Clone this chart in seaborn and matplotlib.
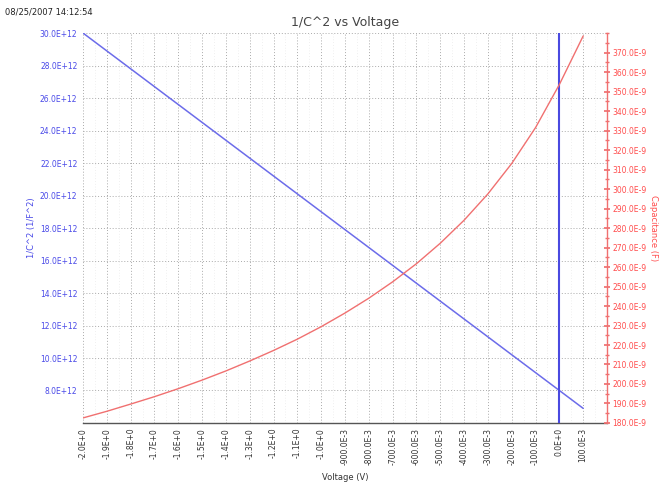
import numpy as np
import pandas as pd
import matplotlib
matplotlib.use("Agg")
import matplotlib.pyplot as plt
import seaborn as sns
from matplotlib.ticker import FuncFormatter, MultipleLocator

# Data
voltage = [-2.0, -1.9, -1.8, -1.7, -1.6, -1.5, -1.4, -1.3, -1.2, -1.1, -1.0,
           -0.9, -0.8, -0.7, -0.6, -0.5, -0.4, -0.3, -0.2, -0.1, 0.0, 0.1]
inv_c2_e12 = [30.0, 28.9, 27.8, 26.7, 25.6, 24.5, 23.4, 22.3, 21.2, 20.1, 19.0,
              17.9, 16.8, 15.7, 14.6, 13.5, 12.4, 11.3, 10.2, 9.1, 8.0, 6.9]
cap_nF = [182.6, 186.0, 189.7, 193.5, 197.6, 202.0, 206.7, 211.8, 217.2, 223.0, 229.4,
          236.4, 244.0, 252.4, 261.7, 272.2, 284.0, 297.5, 313.1, 331.5, 353.6, 378.5]
x_ticks = [-2.0, -1.9, -1.8, -1.7, -1.6, -1.5, -1.4, -1.3, -1.2, -1.1, -1.0,
           -0.9, -0.8, -0.7, -0.6, -0.5, -0.4, -0.3, -0.2, -0.1, 0.0, 0.1]
left_ticks_e12 = [8, 10, 12, 14, 16, 18, 20, 22, 24, 26, 28, 30]
right_ticks_nF = [180, 190, 200, 210, 220, 230, 240, 250, 260, 270, 280, 290,
                  300, 310, 320, 330, 340, 350, 360, 370]

df = pd.DataFrame({"V": voltage,
                   "invC2": [v * 1e12 for v in inv_c2_e12],
                   "C": [v * 1e-9 for v in cap_nF]})


def eng(x, pos=None):
    if abs(x) < 1e-30:
        return "0.0E+0"
    e = int(np.floor(np.log10(abs(x)) / 3) * 3)
    m = x / 10 ** e
    if round(abs(m), 1) >= 1000:
        e += 3
        m = x / 10 ** e
    return f"{m:.1f}E{'+' if e >= 0 else '-'}{abs(e)}"


sns.set_theme(style="white")
plt.rcParams['font.family'] = ['DejaVu Sans']

BLUE = "#6c6cea"
BLUE_TXT = "#4a4ae8"
RED = "#f07070"
RED_TXT = "#ff4d4d"

fig = plt.figure(figsize=(6.65, 4.93), dpi=100)
ax = fig.add_axes([0.1248, 0.142, 0.788, 0.791])
ax2 = ax.twinx()

sns.lineplot(data=df, x="V", y="invC2", ax=ax, color=BLUE, lw=1.1)
sns.lineplot(data=df, x="V", y="C", ax=ax2, color=RED, lw=1.0)

ax.set_xlim(-2.0, 0.2)
ax.set_ylim(6.0e12, 30.0e12)
ax2.set_ylim(180e-9, 380e-9)

ax.set_xticks(x_ticks)
ax.xaxis.set_minor_locator(MultipleLocator(0.05))
ax.set_xticklabels([eng(v) for v in x_ticks], rotation=90, fontsize=5.5, color="#333333")
ax.set_yticks([v * 1e12 for v in left_ticks_e12])
ax.yaxis.set_major_formatter(FuncFormatter(eng))
ax2.set_yticks([v * 1e-9 for v in right_ticks_nF])
ax2.yaxis.set_major_formatter(FuncFormatter(eng))
ax2.yaxis.set_minor_locator(MultipleLocator(5e-9))

ax.tick_params(axis="y", which="both", labelsize=5.5, labelcolor=BLUE_TXT, length=0, pad=4)
ax.tick_params(axis="x", which="major", length=3, direction="inout", color="#444444", pad=2)
ax.tick_params(axis="x", which="minor", length=2, direction="inout", color="#444444")
ax2.tick_params(axis="y", which="major", labelsize=5.5, labelcolor=RED_TXT, color=RED,
                length=4, direction="inout", pad=2)
ax2.tick_params(axis="y", which="minor", color=RED, length=2.5, direction="inout")

ax.grid(True, which="major", color="#aaaaaa", ls=(0, (1, 2)), lw=0.7)
ax.grid(True, which="minor", axis="x", color="#e2e2e2", ls=(0, (1, 3)), lw=0.5)
ax2.grid(False, which="both")

for s in ["top", "left", "right"]:
    ax.spines[s].set_visible(False)
for s in ["top", "left", "bottom"]:
    ax2.spines[s].set_visible(False)
ax.spines["bottom"].set_color("#555555")
ax.spines["bottom"].set_linewidth(1.0)
ax2.spines["right"].set_color(RED)
ax2.spines["right"].set_linewidth(1.0)

ax.axvline(0.0, color="#4a4ae0", lw=1.5, zorder=5)

ax.set_xlabel("Voltage (V)", fontsize=6, color="#333333", labelpad=6)
ax.set_ylabel("1/C^2 (1/F^2)", fontsize=6, color=BLUE_TXT, labelpad=3)
ax2.set_ylabel("Capacitance (F)", fontsize=6, color=RED_TXT, rotation=-90, labelpad=8)

fig.text(0.5185, 0.955, "1/C^2 vs Voltage", ha="center", va="center", fontsize=9, color="#444444")
fig.text(0.008, 0.975, "08/25/2007 14:12:54", ha="left", va="center", fontsize=6, color="#222222")

fig.savefig("out.png", dpi=100, facecolor="white")
